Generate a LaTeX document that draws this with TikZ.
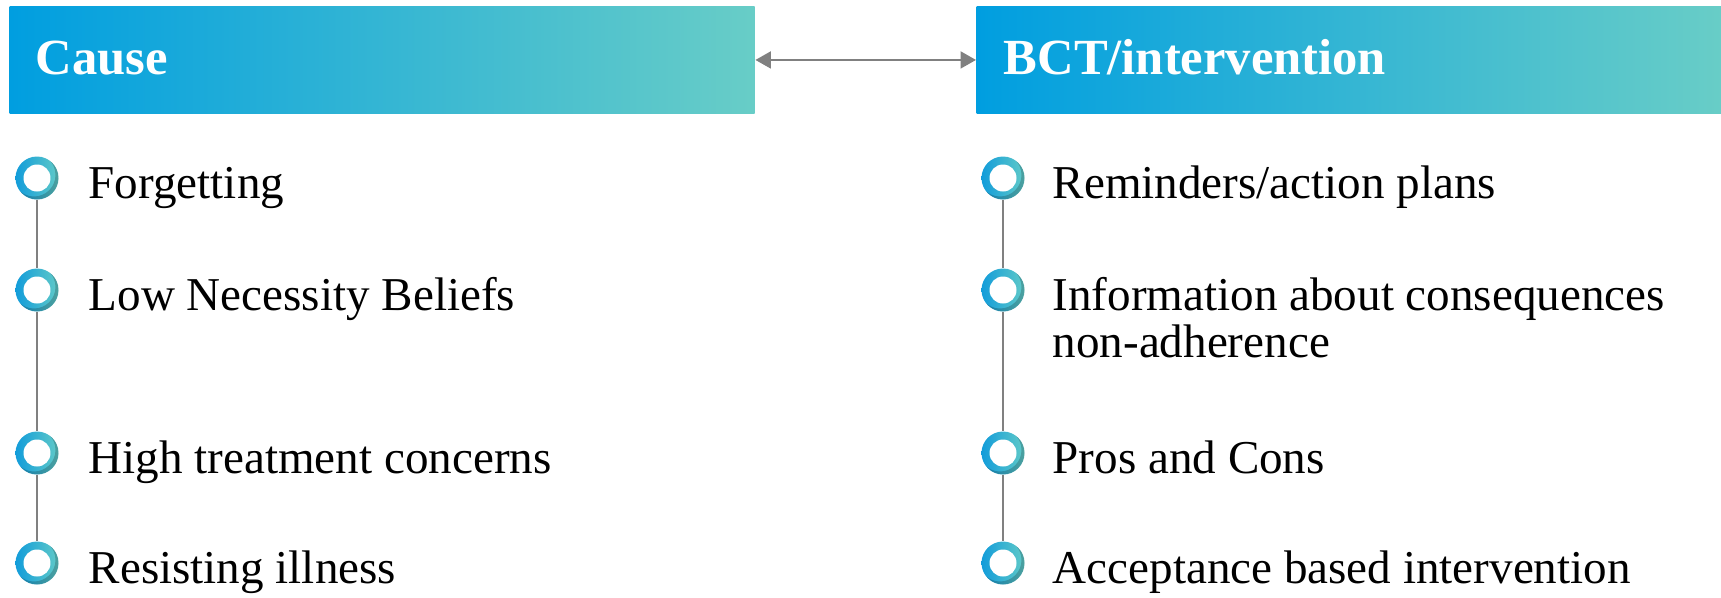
\documentclass[tikz,border=0pt]{standalone}
\usepackage{fontspec}
\setmainfont{Liberation Serif}
\usetikzlibrary{arrows.meta,positioning}

\definecolor{hdblue}{RGB}{0,158,224}
\definecolor{hdteal}{RGB}{104,205,199}
\definecolor{ringblue}{RGB}{18,156,218}
\definecolor{ringteal}{RGB}{96,202,200}
\definecolor{stemgray}{RGB}{128,128,128}

\tikzset{
  header/.style={rectangle,inner sep=0,minimum width=7.45cm,minimum height=1.075cm,
    left color=hdblue,right color=hdteal,anchor=north west},
  headtxt/.style={text=white,inner sep=0,anchor=base west,
    font=\fontsize{14.4pt}{16pt}\selectfont\bfseries},
  ring/.style={circle,inner sep=0,minimum size=0.43cm,
    left color=ringblue,right color=ringteal,
    path picture={
      \fill[black,opacity=0.2,even odd rule]
        (path picture bounding box.center) circle (0.3cm)
        ([shift={(-0.03cm,0.03cm)}]path picture bounding box.center) circle (0.215cm);
      \fill[white] (path picture bounding box.center) circle (0.135cm);}},
  item/.style={inner sep=0,anchor=base west,align=left,
    font=\fontsize{13.4pt}{13.4pt}\selectfont},
  stem/.style={draw=stemgray,line width=0.55pt},
  biarrow/.style={draw=stemgray,line width=0.65pt,
    {Triangle[length=4.4pt,width=4.8pt]}-{Triangle[length=4.4pt,width=4.8pt]}}
}

\begin{document}
\begin{tikzpicture}
  \useasboundingbox (0,0) rectangle (17.21,-5.97);
  % headers
  \node[header] (causehd) at (0.09,-0.055) {};
  \node[header] (bcthd) at (9.76,-0.055) {};
  \node[headtxt] (causetxt) at ([xshift=0.26cm,yshift=-0.15cm]causehd.west) {Cause};
  \node[headtxt] (bcttxt) at ([xshift=0.27cm,yshift=-0.15cm]bcthd.west) {BCT/intervention};
  \draw[biarrow] (causehd.east) -- (bcthd.west);

  % cause column
  \node[ring] (c1) at (0.37,-1.78) {};
  \node[ring] (c2) at (0.37,-2.90) {};
  \node[ring] (c3) at (0.37,-4.53) {};
  \node[ring] (c4) at (0.37,-5.63) {};
  \draw[stem] (c1) -- (c2) -- (c3) -- (c4);
  \node[item] (t1) at ([xshift=0.51cm,yshift=-0.2cm]c1.center) {Forgetting};
  \node[item] (t2) at ([xshift=0.51cm,yshift=-0.2cm]c2.center) {Low Necessity Beliefs};
  \node[item] (t3) at ([xshift=0.51cm,yshift=-0.2cm]c3.center) {High treatment concerns};
  \node[item] (t4) at ([xshift=0.51cm,yshift=-0.2cm]c4.center) {Resisting illness};

  % BCT column
  \node[ring] (b1) at (10.03,-1.78) {};
  \node[ring] (b2) at (10.03,-2.90) {};
  \node[ring] (b3) at (10.03,-4.53) {};
  \node[ring] (b4) at (10.03,-5.63) {};
  \draw[stem] (b1) -- (b2) -- (b3) -- (b4);
  \node[item] (s1) at ([xshift=0.49cm,yshift=-0.2cm]b1.center) {Reminders/action plans};
  \node[item] (s2) at ([xshift=0.49cm,yshift=-0.2cm-13.4pt]b2.center) {Information about consequences\\non-adherence}; % base = last line
  \node[item] (s3) at ([xshift=0.49cm,yshift=-0.2cm]b3.center) {Pros and Cons};
  \node[item] (s4) at ([xshift=0.49cm,yshift=-0.2cm]b4.center) {Acceptance based intervention};
\end{tikzpicture}
\end{document}
